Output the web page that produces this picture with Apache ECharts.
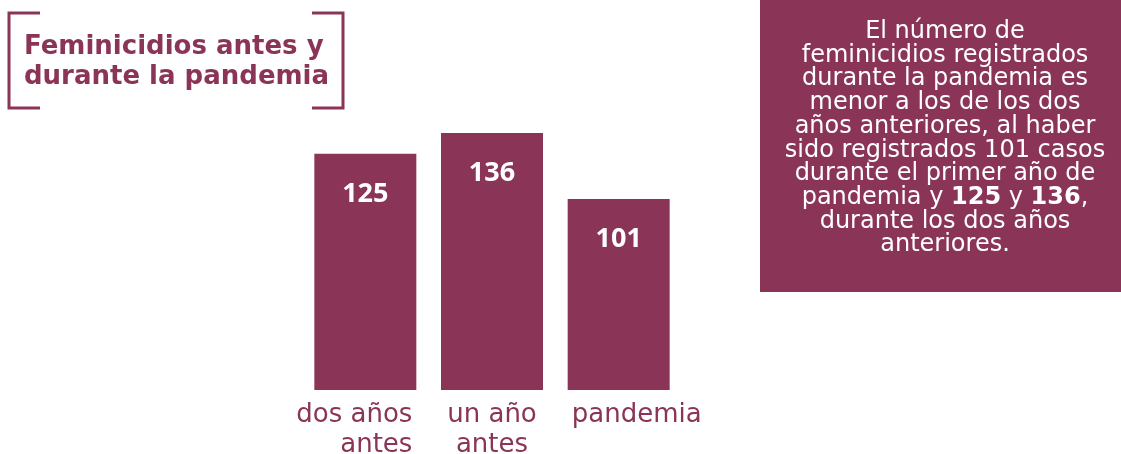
<!DOCTYPE html>
<html>
<head>
<meta charset="utf-8">
<script src="https://cdn.jsdelivr.net/npm/echarts@6/dist/echarts.min.js"></script>
<style>
  html, body { margin: 0; padding: 0; background: #fff; }
  #main { width: 1121px; height: 454px; }
</style>
</head>
<body>
<div id="main"></div>
<script>
var categorias = ['dos años\nantes', 'un año\nantes', 'pandemia'];
var casos = [125, 136, 101];
var titulo = 'Feminicidios antes y\ndurante la pandemia';

var morado = '#8a3557';
var fuente = 'DejaVu Sans';

var chart = echarts.init(document.getElementById('main'));

// alineación de cada etiqueta del eje como en la imagen
var estiloEtiquetas = [
    {align: 'center', padding: [0, 22, 0, 0], rich: {l: {align: 'right'}}},
    {align: 'center', rich: {l: {align: 'center'}}},
    {align: 'center', padding: [0, 0, 0, 36], rich: {l: {align: 'left'}}}
];
var datosEje = categorias.map(function (c, i) {
    return {value: c, textStyle: estiloEtiquetas[i]};
});

var option = {
    animation: false,
    title: {
        text: titulo,
        left: 19,
        top: 27,
        textStyle: {
            color: morado,
            fontFamily: fuente,
            fontWeight: 'bold',
            fontSize: 26,
            lineHeight: 30
        }
    },
    grid: {left: 302, right: 439, top: 106.5, bottom: 64, outerBoundsMode: 'none', containLabel: false},
    xAxis: {
        type: 'category',
        data: datosEje,
        axisLine: {show: false},
        axisTick: {show: false},
        axisLabel: {
            interval: 0,
            hideOverlap: false,
            color: morado,
            fontFamily: fuente,
            fontSize: 26,
            lineHeight: 30,
            margin: 10,
            formatter: function (v) {
                return v.split('\n').map(function (s) { return '{l|' + s + '}'; }).join('\n');
            }
        }
    },
    yAxis: {type: 'value', min: 0, max: 150, show: false},
    series: [{
        type: 'bar',
        data: casos,
        barWidth: 102,
        itemStyle: {color: morado},
        label: {
            show: true,
            position: 'insideTop',
            distance: 27,
            color: '#fff',
            fontFamily: 'Open Sans',
            fontWeight: 'bold',
            fontSize: 27
        }
    }],
    graphic: [
        // corchetes del título
        {type: 'polyline', shape: {points: [[40, 13], [9, 13], [9, 108], [40, 108]]},
         style: {stroke: morado, lineWidth: 3, fill: null}},
        {type: 'polyline', shape: {points: [[312, 13], [343, 13], [343, 108], [312, 108]]},
         style: {stroke: morado, lineWidth: 3, fill: null}},
        // recuadro de texto
        {type: 'rect', shape: {x: 760, y: 0, width: 361, height: 292},
         style: {fill: morado}},
        {type: 'text', x: 945, y: 20,
         style: {
             text: 'El número de\nfeminicidios registrados\ndurante la pandemia es\nmenor a los de los dos\naños anteriores, al haber\nsido registrados ' + casos[2] +
                   ' casos\ndurante el primer año de\npandemia y {b|' + casos[0] + '} y {b|' + casos[1] + '},\ndurante los dos años\nanteriores.',
             align: 'center',
             verticalAlign: 'top',
             fill: '#fff',
             font: '24px "DejaVu Sans"',
             lineHeight: 23.7,
             rich: {b: {fontWeight: 'bold', fontSize: 24, fill: '#fff', fontFamily: 'DejaVu Sans', lineHeight: 23.7}}
         }}
    ]
};
chart.setOption(option);
</script>
</body>
</html>
